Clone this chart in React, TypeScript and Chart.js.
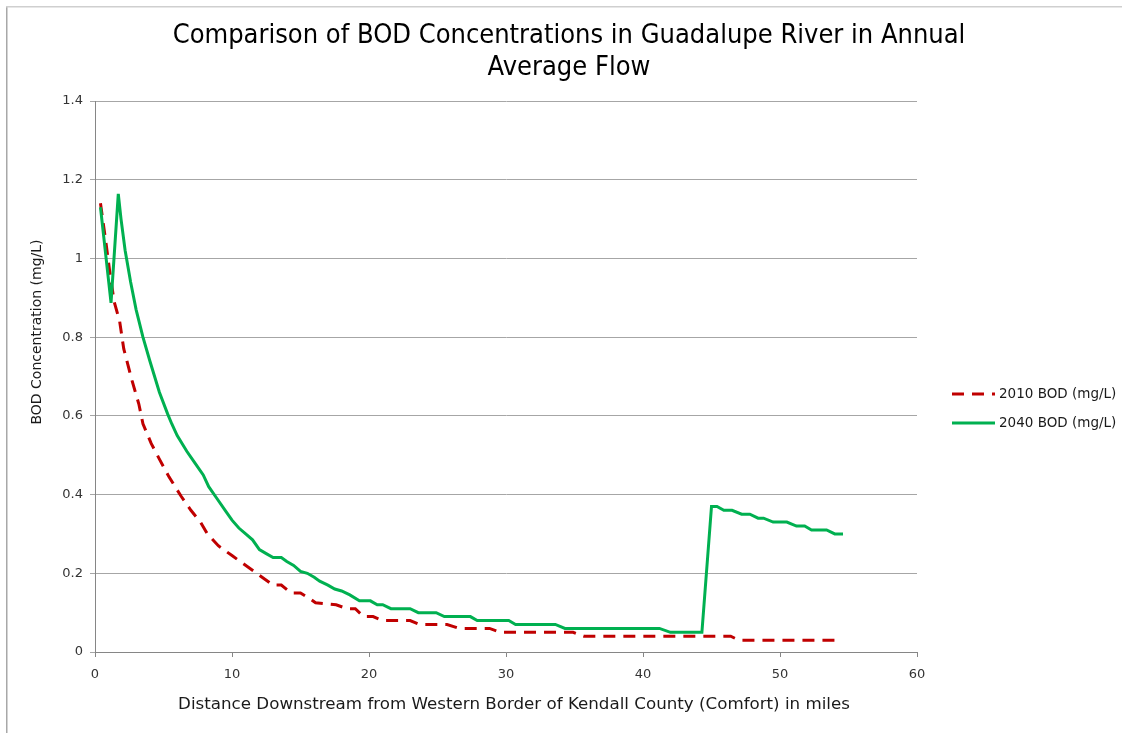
import React, { useEffect, useRef } from "react";
import { Chart, registerables } from "chart.js";

Chart.register(...registerables);

const titleLines = ["Comparison of BOD Concentrations in Guadalupe River in Annual", "Average Flow"];
const xAxisTitle = "Distance Downstream from Western Border of Kendall County (Comfort) in miles";
const yAxisTitle = "BOD Concentration (mg/L)";
const seriesLabels = ["2010 BOD (mg/L)", "2040 BOD (mg/L)"];

const xTickValues = [0, 10, 20, 30, 40, 50, 60];
const yTickValues = [0, 0.2, 0.4, 0.6, 0.8, 1, 1.2, 1.4];
const yTickLabels = ["0", "0.2", "0.4", "0.6", "0.8", "1", "1.2", "1.4"];

const x2010 = [0.4, 0.8, 1.1, 1.4, 1.8, 2.1, 2.7, 3.2, 3.5, 4.1, 4.7, 5.4, 6.3, 7.0, 7.7, 8.2, 9.0, 10.0, 10.8, 11.8, 12.4, 13.0, 13.6, 14.3, 15.0, 15.7, 16.1, 17.6, 18.4, 19.0, 19.6, 20.3, 21.0, 23.0, 23.7, 25.7, 26.6, 28.8, 29.6, 34.9, 35.7, 46.4, 47.0, 54.5];
const y2010 = [1.14, 1.04, 0.96, 0.89, 0.84, 0.77, 0.69, 0.63, 0.58, 0.53, 0.49, 0.445, 0.395, 0.36, 0.33, 0.30, 0.27, 0.245, 0.225, 0.20, 0.185, 0.17, 0.17, 0.15, 0.15, 0.135, 0.125, 0.12, 0.11, 0.11, 0.09, 0.09, 0.08, 0.08, 0.07, 0.07, 0.06, 0.06, 0.05, 0.05, 0.04, 0.04, 0.03, 0.03];

const x2040 = [0.4, 1.17, 1.7, 1.9, 2.2, 2.6, 3.0, 3.5, 4.0, 4.7, 5.3, 5.6, 6.0, 6.7, 7.3, 7.9, 8.3, 8.9, 9.5, 10.0, 10.5, 11.0, 11.5, 12.0, 12.5, 13.0, 13.6, 14.0, 14.5, 15.0, 15.5, 16.0, 16.4, 17.0, 17.5, 18.0, 18.6, 19.3, 20.1, 20.6, 21.0, 21.6, 23.0, 23.6, 24.9, 25.5, 27.4, 27.9, 30.2, 30.7, 33.6, 34.3, 41.2, 42.0, 44.3, 45.0, 45.4, 45.9, 46.5, 47.2, 47.8, 48.4, 48.8, 49.5, 50.5, 51.2, 51.8, 52.3, 53.4, 54.0, 54.6];
const y2040 = [1.13, 0.887, 1.164, 1.1, 1.02, 0.94, 0.87, 0.80, 0.74, 0.66, 0.605, 0.58, 0.55, 0.51, 0.48, 0.45, 0.42, 0.39, 0.36, 0.335, 0.315, 0.30, 0.285, 0.26, 0.25, 0.24, 0.24, 0.23, 0.22, 0.205, 0.2, 0.19, 0.18, 0.17, 0.16, 0.155, 0.145, 0.13, 0.13, 0.12, 0.12, 0.11, 0.11, 0.10, 0.10, 0.09, 0.09, 0.08, 0.08, 0.07, 0.07, 0.06, 0.06, 0.05, 0.05, 0.37, 0.37, 0.36, 0.36, 0.35, 0.35, 0.34, 0.34, 0.33, 0.33, 0.32, 0.32, 0.31, 0.31, 0.30, 0.30];

const RED = "#C00000";
const GREEN = "#00B050";
const RED_DASH = [12, 8];

const textPlugin = {
  id: "textPlugin",
  beforeDraw(chart: any) {
    const ctx = chart.ctx;
    ctx.save();
    ctx.fillStyle = "#ffffff";
    ctx.fillRect(0, 0, chart.width, chart.height);
    ctx.fillStyle = "#a8a8a8";
    ctx.fillRect(6, 6, 1.5, chart.height);
    ctx.fillStyle = "#cfcfcf";
    ctx.fillRect(6, 6, chart.width, 1.5);
    ctx.restore();
  },
  afterDraw(chart: any) {
    const ctx = chart.ctx;
    const area = chart.chartArea;
    ctx.save();
    // main title
    ctx.fillStyle = "#000000";
    ctx.textAlign = "center";
    ctx.textBaseline = "middle";
    try { (ctx as any).fontStretch = "condensed"; } catch (e) {}
    ctx.font = "27px 'DejaVu Sans Condensed', 'DejaVu Sans'";
    ctx.fillText(titleLines[0], 569, 36);
    ctx.fillText(titleLines[1], 569, 68);
    try { (ctx as any).fontStretch = "normal"; } catch (e) {}
    // x-axis title
    ctx.font = "16.7px 'DejaVu Sans'";
    ctx.fillStyle = "#1a1a1a";
    ctx.fillText(xAxisTitle, 514, 705);
    // y-axis title
    ctx.save();
    ctx.translate(37, 332);
    ctx.rotate(-Math.PI / 2);
    ctx.font = "14px 'DejaVu Sans'";
    ctx.fillText(yAxisTitle, 0, 0);
    ctx.restore();
    // legend
    const lx = area.right + 35;
    const rows = [394, 423];
    const colors = [RED, GREEN];
    ctx.font = "13.5px 'DejaVu Sans'";
    ctx.textAlign = "left";
    for (let i = 0; i < 2; i++) {
      ctx.beginPath();
      ctx.lineWidth = 3;
      ctx.strokeStyle = colors[i];
      ctx.lineCap = "butt";
      ctx.setLineDash(i === 0 ? RED_DASH : []);
      ctx.moveTo(lx, rows[i]);
      ctx.lineTo(lx + 43, rows[i]);
      ctx.stroke();
      ctx.setLineDash([]);
      ctx.fillStyle = "#1a1a1a";
      ctx.fillText(seriesLabels[i], lx + 47, rows[i]);
    }
    ctx.restore();
  },
};

export default function App() {
  const canvasRef = useRef<HTMLCanvasElement | null>(null);

  useEffect(() => {
    if (!canvasRef.current) return;
    const tickFont = { family: "'DejaVu Sans'", size: 13 };
    const chart = new Chart(canvasRef.current, {
      type: "line",
      data: {
        datasets: [
          {
            label: seriesLabels[0],
            data: x2010.map((x, i) => ({ x, y: y2010[i] })),
            borderColor: RED,
            backgroundColor: RED,
            borderWidth: 3,
            borderDash: RED_DASH,
            borderCapStyle: "butt",
            pointRadius: 0,
            tension: 0,
            fill: false,
            order: 2,
          },
          {
            label: seriesLabels[1],
            data: x2040.map((x, i) => ({ x, y: y2040[i] })),
            borderColor: GREEN,
            backgroundColor: GREEN,
            borderWidth: 3,
            pointRadius: 0,
            tension: 0,
            fill: false,
            order: 1,
          },
        ],
      },
      options: {
        responsive: false,
        animation: false,
        devicePixelRatio: 1,
        layout: { padding: { left: 0, top: 101, right: 205, bottom: 0 } },
        plugins: {
          legend: { display: false },
          title: { display: false },
          tooltip: { enabled: false },
        },
        scales: {
          x: {
            type: "linear",
            min: 0,
            max: 60,
            afterBuildTicks: (s: any) => {
              s.ticks = xTickValues.map((v) => ({ value: v }));
            },
            afterFit: (s: any) => {
              s.height = 81;
            },
            ticks: { font: tickFont, color: "#333333", padding: 10, maxRotation: 0, autoSkip: false },
            grid: { drawOnChartArea: false, drawTicks: true, tickLength: 5, color: "#868686" },
            border: { color: "#868686", width: 1 },
          },
          y: {
            type: "linear",
            min: 0,
            max: 1.4,
            afterBuildTicks: (s: any) => {
              s.ticks = yTickValues.map((v) => ({ value: v }));
            },
            afterFit: (s: any) => {
              s.width = 95;
            },
            ticks: {
              font: tickFont,
              color: "#333333",
              padding: 7,
              autoSkip: false,
              callback: (_v: any, i: number) => yTickLabels[i],
            },
            grid: { color: "#a6a6a6", tickLength: 5, lineWidth: 1 },
            border: { color: "#868686", width: 1 },
          },
        },
      },
      plugins: [textPlugin],
    } as any);
    return () => chart.destroy();
  }, []);

  return (
    <div style={{ position: "fixed", left: 0, top: 0, width: 1122, height: 733, background: "#fff" }}>
      <canvas ref={canvasRef} width={1122} height={733} style={{ width: 1122, height: 733, display: "block" }} />
    </div>
  );
}
